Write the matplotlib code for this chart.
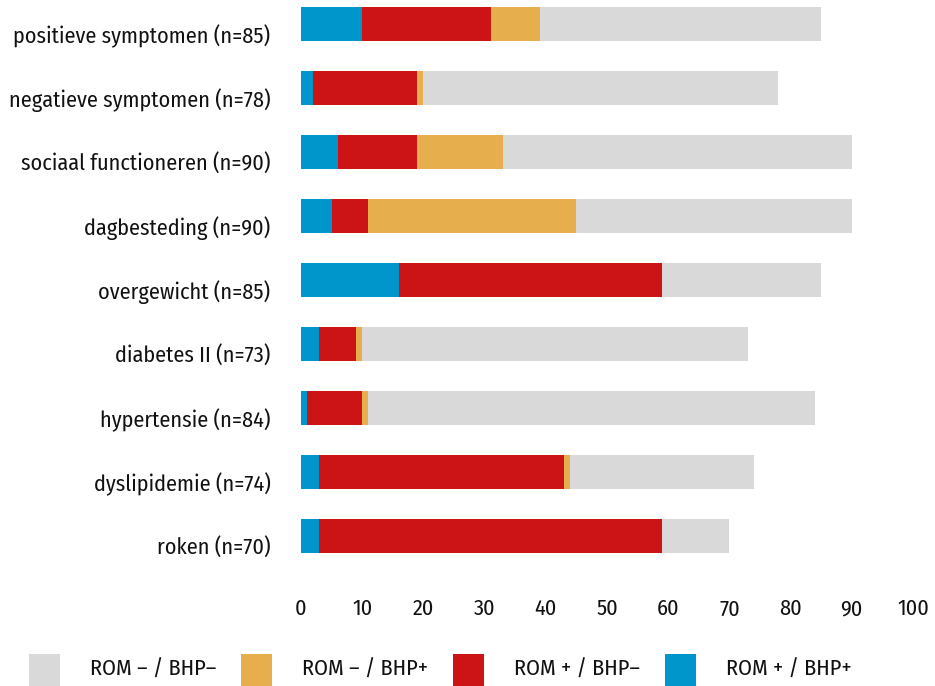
import matplotlib
matplotlib.use("Agg")
import matplotlib.pyplot as plt
from matplotlib import font_manager
from matplotlib.patches import Rectangle
from matplotlib.transforms import ScaledTranslation
import numpy as np

# categories (top to bottom) and counts per group
categories = ["positieve symptomen (n=85)", "negatieve symptomen (n=78)",
              "sociaal functioneren (n=90)", "dagbesteding (n=90)",
              "overgewicht (n=85)", "diabetes II (n=73)", "hypertensie (n=84)",
              "dyslipidemie (n=74)", "roken (n=70)"]
rom_pos_bhp_pos = [10, 2, 6, 5, 16, 3, 1, 3, 3]
rom_pos_bhp_neg = [21, 17, 13, 6, 43, 6, 9, 40, 56]
rom_neg_bhp_pos = [8, 1, 14, 34, 0, 1, 1, 1, 0]
rom_neg_bhp_neg = [46, 58, 57, 45, 26, 63, 73, 30, 11]

series_labels = ["ROM + / BHP+", "ROM + / BHP\u2013", "ROM \u2013 / BHP+", "ROM \u2013 / BHP\u2013"]
colors = ["#0095cb", "#cc1417", "#e6ae4c", "#d9d9d9"]
xticks = list(range(0, 101, 10))

names = {f.name for f in font_manager.fontManager.ttflist}
family = "Fira Sans Condensed" if "Fira Sans Condensed" in names else "DejaVu Sans"
plt.rcParams["font.family"] = [family, "DejaVu Sans"]
FS = 16
TXT = "#111111"

W, H = 935, 686
fig = plt.figure(figsize=(W / 100, H / 100), dpi=100)
ax = fig.add_axes([301 / W, 1 - 568 / H, 612 / W, 568 / H])

y = np.arange(len(categories))
left = np.zeros(len(categories))
for vals, col in zip([rom_pos_bhp_pos, rom_pos_bhp_neg, rom_neg_bhp_pos, rom_neg_bhp_neg], colors):
    ax.barh(y, vals, left=left, height=0.52, color=col, linewidth=0)
    left += np.array(vals)

ax.set_xlim(0, 100)
ax.set_ylim(8.5, -0.375)
ax.set_yticks(y)
ax.set_yticklabels(categories, fontsize=FS, color=TXT)
ax.set_xticks(xticks)
ax.set_xticklabels([str(t) for t in xticks], fontsize=FS, color=TXT)
ax.tick_params(axis="y", length=0, pad=22)
ax.tick_params(axis="x", length=0, pad=22)
for s in ax.spines.values():
    s.set_visible(False)

# category labels sit a little below the bar centres
shift = ScaledTranslation(0, -10 / 100, fig.dpi_scale_trans)
for lbl in ax.get_yticklabels():
    lbl.set_transform(lbl.get_transform() + shift)

# legend drawn as a row of squares with labels
legend_order = [3, 2, 1, 0]
for i, k in enumerate(legend_order):
    x0 = 29 + 212 * i
    fig.add_artist(Rectangle((x0 / W, 0), 31 / W, 32 / H, transform=fig.transFigure,
                             color=colors[k], linewidth=0))
    fig.text((x0 + 61) / W, 1 - 669 / H, series_labels[k], fontsize=FS,
             color=TXT, va="center", ha="left")

fig.savefig("out.png", dpi=100)
